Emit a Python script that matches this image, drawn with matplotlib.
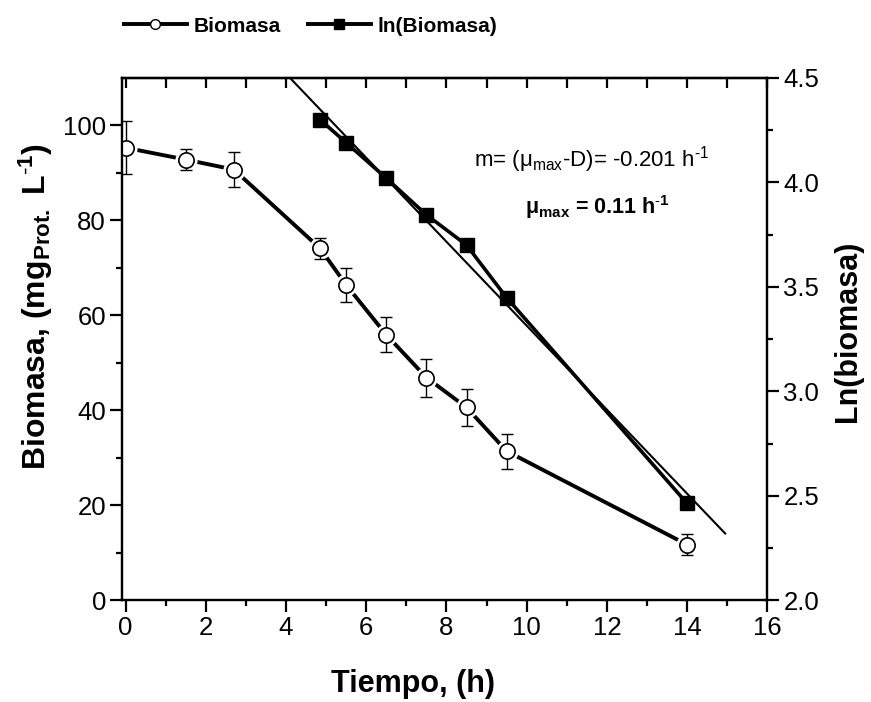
import numpy as np
import matplotlib
matplotlib.use('Agg')
import matplotlib.pyplot as plt
from matplotlib.lines import Line2D

plt.rcParams['font.family'] = ['Liberation Sans', 'DejaVu Sans']
plt.rcParams['mathtext.fontset'] = 'custom'
plt.rcParams['mathtext.rm'] = 'Liberation Sans'
plt.rcParams['mathtext.default'] = 'regular'

# data
tiempo = [0, 1.5, 2.7, 4.85, 5.5, 6.5, 7.5, 8.5, 9.5, 14]
biomasa = [95.3, 92.8, 90.7, 74.1, 66.4, 55.9, 46.9, 40.6, 31.4, 11.7]
biomasa_err = [5.6, 2.2, 3.6, 2.2, 3.6, 3.7, 4.0, 3.9, 3.7, 2.2]

tiempo_ln = [4.85, 5.5, 6.5, 7.5, 8.5, 9.5, 14]
ln_biomasa = [4.30, 4.19, 4.02, 3.845, 3.70, 3.448, 2.463]

# linear fit on ln(biomasa)
fit_slope = -0.201
fit_intercept = 5.324
fit_x = [3.5, 14.95]

fig = plt.figure(figsize=(8.71, 7.02), dpi=100)
ax = fig.add_axes([0.140, 0.145, 0.741, 0.744])
ax2 = ax.twinx()

# biomasa series: line, white halo, error bars, open circles
ax.plot(tiempo, biomasa, color='k', lw=2.8, zorder=2)
ax.plot(tiempo, biomasa, ls='none', marker='o', ms=15, mfc='white', mec='white', zorder=3)
ax.errorbar(tiempo, biomasa, yerr=biomasa_err, fmt='none', ecolor='k',
            elinewidth=1.0, capsize=4, capthick=1.0, zorder=4)
ax.plot(tiempo, biomasa, ls='none', marker='o', ms=11, mfc='white', mec='k', mew=1.2, zorder=5)

# ln series + fit
fx = np.array(fit_x)
ax2.plot(fx, fit_intercept + fit_slope * fx, color='k', lw=1.5, zorder=2)
ax2.plot(tiempo_ln, ln_biomasa, color='k', lw=2.6, marker='s', ms=10, mfc='k', mec='k', zorder=3)

ax.set_xlim(-0.09, 16)
ax.set_ylim(0, 110)
ax2.set_ylim(2.0, 4.5)

ax.set_xticks(range(0, 17, 2))
ax.set_xticks(range(1, 17, 2), minor=True)
ax.set_yticks(range(0, 101, 20))
ax.set_yticks(range(10, 110, 20), minor=True)
ax2.set_yticks([2.0, 2.5, 3.0, 3.5, 4.0, 4.5])
ax2.set_yticks([2.25, 2.75, 3.25, 3.75, 4.25], minor=True)
ax2.set_yticklabels(['2.0', '2.5', '3.0', '3.5', '4.0', '4.5'])

for a in (ax, ax2):
    for s in a.spines.values():
        s.set_linewidth(1.6)
    a.tick_params(which='major', length=8.5, width=1.6, labelsize=18.5, direction='out', pad=3)
    a.tick_params(which='minor', length=4.3, width=1.6, direction='out')

top = ax.secondary_xaxis('top')
top.set_xticks(range(0, 17, 2))
top.set_xticks(range(1, 17, 2), minor=True)
top.tick_params(which='both', direction='in', length=7, width=1.6, labeltop=False)
top.spines['top'].set_linewidth(1.6)

ax.set_xlabel('Tiempo, (h)', fontsize=22, fontweight='bold')
ax.xaxis.set_label_coords(0.451, -0.132)
ax.set_ylabel(r'Biomasa, (mg$_{Prot.}$ L$^{\text{-}1}$)', fontsize=23, fontweight='bold')
ax.yaxis.set_label_coords(-0.103, 0.563)
ax2.set_ylabel('Ln(biomasa)', fontsize=22, fontweight='bold')
ax2.yaxis.set_label_coords(1.102, 0.515)

ax2.text(0.727, 0.843, r'm= (μ$_{max}$-D)= -0.201 h$^{\text{-}1}$', transform=ax.transAxes,
         ha='center', va='center', fontsize=16)
ax2.text(0.736, 0.753, r'μ$_{max}$ = 0.11 h$^{\text{-}1}$', transform=ax.transAxes,
         ha='center', va='center', fontsize=15.5, fontweight='bold')

handles = [
    Line2D([], [], color='k', lw=2.8, marker='o', ms=7, mfc='white', mec='k', mew=1),
    Line2D([], [], color='k', lw=2.8, marker='s', ms=7, mfc='k', mec='k'),
]
fig.legend(handles, ['Biomasa', 'ln(Biomasa)'], loc='center left',
           bbox_to_anchor=(124 / 871, 1 - 26 / 702), ncol=2, frameon=False,
           handlelength=3.0, handletextpad=0.35, columnspacing=1.3,
           prop={'weight': 'bold', 'size': 15}, borderpad=0, borderaxespad=0)

fig.savefig('out.png', dpi=100)
